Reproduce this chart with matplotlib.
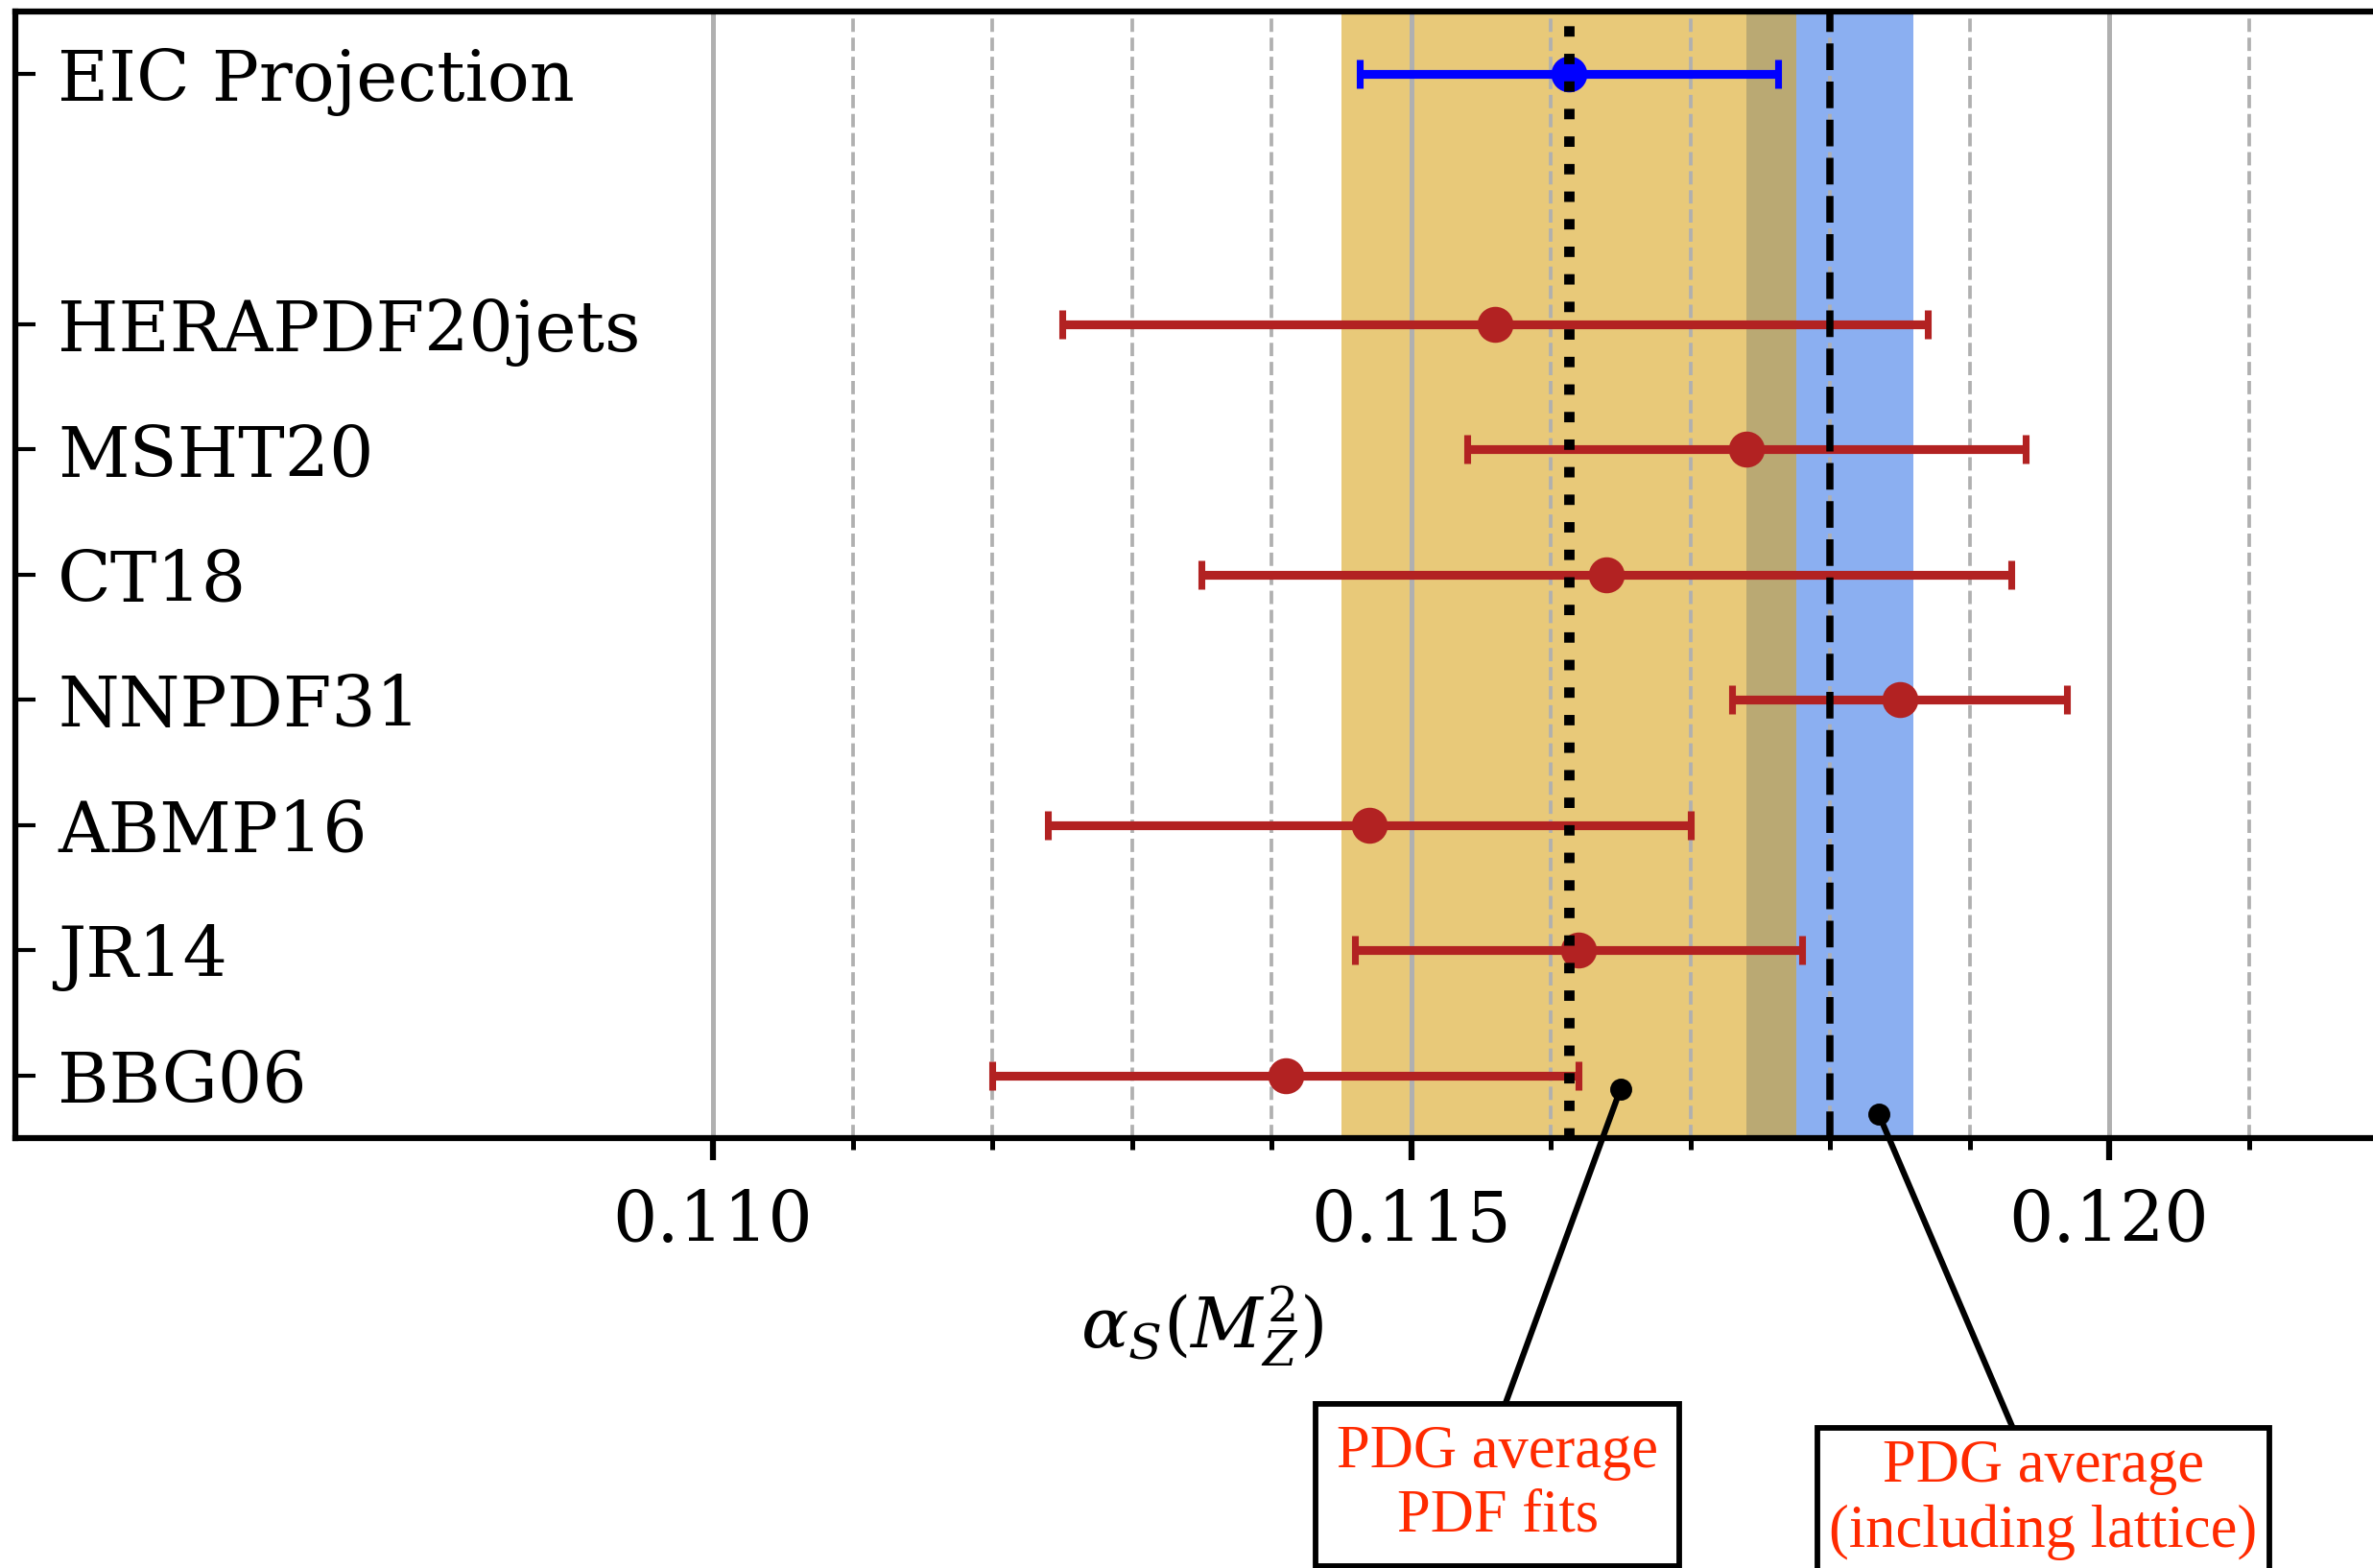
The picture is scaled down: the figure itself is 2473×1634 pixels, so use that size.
import numpy as np
import matplotlib
matplotlib.use("Agg")
import matplotlib.pyplot as plt
from matplotlib.ticker import FixedLocator

plt.rcParams["font.family"] = "DejaVu Serif"
plt.rcParams["mathtext.fontset"] = "dejavuserif"

# alpha_s(M_Z^2) extractions from PDF fits
fits = ["BBG06", "JR14", "ABMP16", "NNPDF31", "CT18", "MSHT20", "HERAPDF20jets"]
fit_vals = [0.1141, 0.1162, 0.1147, 0.1185, 0.1164, 0.1174, 0.1156]
fit_errs = [0.0021, 0.0016, 0.0023, 0.0012, 0.0029, 0.0020, 0.0031]
fit_rows = [0, 1, 2, 3, 4, 5, 6]

eic_label = "EIC Projection"
eic_val = 0.11613
eic_err = 0.0015
eic_row = 8

# PDG averages
pdg_pdf_val, pdg_pdf_err = 0.11613, 0.00163
pdg_all_val, pdg_all_err = 0.1180, 0.0006

major_ticks = [0.110, 0.115, 0.120]
minor_ticks = [0.111, 0.112, 0.113, 0.114, 0.116, 0.117, 0.118, 0.119, 0.121]

fig = plt.figure(figsize=(2473 / 300, 1634 / 300), dpi=300)
ax = fig.add_axes([0.00627, 0.2742, 1.0002, 0.7185])

ax.axvspan(pdg_all_val - pdg_all_err, pdg_all_val + pdg_all_err,
           color="cornflowerblue", alpha=0.75, lw=0, zorder=0.2)
ax.axvspan(pdg_pdf_val - pdg_pdf_err, pdg_pdf_val + pdg_pdf_err,
           color="goldenrod", alpha=0.6, lw=0, zorder=0.3)

ax.axvline(pdg_pdf_val, color="black", ls=":", lw=2.6, zorder=2.5)
ax.axvline(pdg_all_val, color="black", ls="--", lw=1.8, zorder=2.5)

ax.errorbar(fit_vals, fit_rows, xerr=fit_errs, fmt="o", color="firebrick",
            ms=8, elinewidth=2.2, capsize=3.5, capthick=1.7, zorder=2)
ax.errorbar([eic_val], [eic_row], xerr=[eic_err], fmt="o", color="blue",
            ms=8, elinewidth=2.2, capsize=3.5, capthick=1.7, zorder=2)

ax.set_xlim(0.105, 0.122)
ax.set_ylim(-0.5, 8.5)

ax.xaxis.set_major_locator(FixedLocator(major_ticks))
ax.xaxis.set_minor_locator(FixedLocator(minor_ticks))
ax.set_xticklabels([f"{t:.3f}" for t in major_ticks])
ax.set_yticks(fit_rows + [eic_row])
ax.set_yticklabels(fits + [eic_label])
for lab in ax.get_yticklabels():
    lab.set_horizontalalignment("left")

ax.set_axisbelow(True)
ax.grid(which="major", axis="x", color="#b0b0b0", ls="-", lw=1.2)
ax.grid(which="minor", axis="x", color="#b0b0b0", ls="--", lw=0.9)

ax.tick_params(axis="x", which="major", direction="out", length=5.5, width=1.5,
               labelsize=17.5, pad=7)
ax.tick_params(axis="x", which="minor", direction="out", length=2.9, width=1.2)
ax.tick_params(axis="y", which="major", direction="in", length=5, width=1.0,
               labelsize=17.5, pad=-10.7)
for sp in ax.spines.values():
    sp.set_linewidth(1.5)

ax.set_xlabel(r"$\alpha_S(M_Z^2)$", fontsize=17.5, labelpad=7)

# labelled pointers to the two PDG bands
ax.plot([0.1165], [-0.11], "o", color="black", ms=4.5, zorder=4)
ax.annotate("PDG average\nPDF fits", xy=(0.1165, -0.11), xytext=(0.11562, -3.27),
            ha="center", va="center", multialignment="center",
            fontsize=15, family="Liberation Serif", color="#ff2a00",
            bbox=dict(boxstyle="square,pad=0.35", fc="white", ec="black", lw=1.4),
            annotation_clip=False,
            arrowprops=dict(arrowstyle="-", color="black", lw=1.5,
                            shrinkA=0, shrinkB=0, relpos=(0.5, 1.0)))
ax.plot([0.11835], [-0.31], "o", color="black", ms=4.5, zorder=4)
ax.annotate("PDG average\n(including lattice)", xy=(0.11835, -0.31),
            xytext=(0.11953, -3.39),
            ha="center", va="center", multialignment="center",
            fontsize=15, family="Liberation Serif", color="#ff2a00",
            bbox=dict(boxstyle="square,pad=0.2", fc="white", ec="black", lw=1.4),
            annotation_clip=False,
            arrowprops=dict(arrowstyle="-", color="black", lw=1.5,
                            shrinkA=0, shrinkB=0))

fig.savefig("out.png", dpi=300)
